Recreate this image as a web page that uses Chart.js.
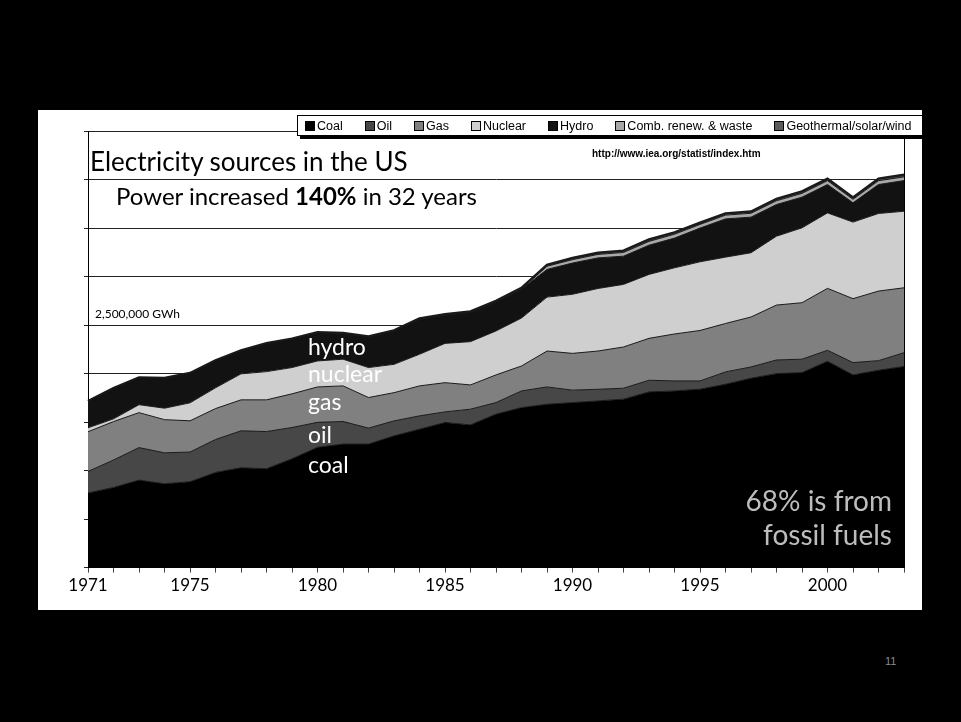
<!DOCTYPE html>
<html>
<head>
<meta charset="utf-8">
<script src="https://cdn.jsdelivr.net/npm/chart.js@4.4.1/dist/chart.umd.min.js"></script>
<style>
  body { margin: 0; width: 961px; height: 722px; background: #000; position: relative; overflow: hidden; font-family: Lato, sans-serif; }
  #panel { position: absolute; left: 38px; top: 110px; width: 884px; height: 500px; background: #fff; }
  #panel canvas { position: absolute; left: 0; top: 0; }
  .txt { position: absolute; white-space: nowrap; line-height: 1; }
  #title { left: 90px; top: 148px; font-size: 26px; color: #000; }
  #sub { left: 116px; top: 184px; font-size: 24px; color: #000; }
  #src { left: 592px; top: 148px; font: bold 10px "Liberation Sans", Arial, sans-serif; color: #000; }
  #gwh { left: 95px; top: 308px; font-size: 12px; color: #000; }
  .layer { left: 308px; font-size: 23px; color: #fff; }
  .fossil { right: 69px; font-size: 28px; color: #bdbdbd; text-align: right; }
  #legend { position: absolute; left: 297px; top: 115px; width: 626px; height: 21px; box-sizing: border-box;
            border: 1px solid #000; background: #fff; box-shadow: 3px 3px 0 #000;
            display: flex; justify-content: flex-start; gap: 22px; align-items: center; padding: 0 7px;
            font: 12.5px "Liberation Sans", Arial, sans-serif; color: #000; }
  #legend span.sw { display: inline-block; width: 8px; height: 8px; border: 1px solid #000; margin-right: 2px; vertical-align: -1px; }
  #page { position: absolute; left: 885px; top: 655px; font: 11px "Liberation Sans", Arial, sans-serif; color: #8c8c8c; }
</style>
</head>
<body>
<div id="panel"><canvas id="chart" width="884" height="500"></canvas></div>
<div id="legend"></div>
<div class="txt" id="title">Electricity sources in the US</div>
<div class="txt" id="sub">Power increased <b>140%</b> in 32 years</div>
<div class="txt" id="src">http://www.iea.org/statist/index.htm</div>
<div class="txt" id="gwh">2,500,000 GWh</div>
<div class="txt layer" style="top:335px">hydro</div>
<div class="txt layer" style="top:362px">nuclear</div>
<div class="txt layer" style="top:390px">gas</div>
<div class="txt layer" style="top:423px">oil</div>
<div class="txt layer" style="top:453px">coal</div>
<div class="txt fossil" style="top:486px">68% is from</div>
<div class="txt fossil" style="top:520px">fossil fuels</div>
<div id="page">11</div>
<script>
// US electricity generation by source, TWh (thousand GWh)
const years = [1971, 1972, 1973, 1974, 1975, 1976, 1977, 1978, 1979, 1980, 1981,
  1982, 1983, 1984, 1985, 1986, 1987, 1988, 1989, 1990, 1991, 1992, 1993, 1994,
  1995, 1996, 1997, 1998, 1999, 2000, 2001, 2002, 2003];
const tickYears = [1971, 1975, 1980, 1985, 1990, 1995, 2000];

const coal = [769, 826, 902, 864, 885, 981, 1029, 1019, 1122, 1240, 1273, 1273, 1358,
  1427, 1495, 1471, 1582, 1649, 1684, 1701, 1718, 1736, 1811, 1821, 1839, 1890, 1952,
  1999, 2010, 2127, 1986, 2034, 2073];
const oil = [222, 283, 335, 319, 306, 339, 381, 383, 322, 257, 233, 165, 154, 137, 110,
  162, 119, 172, 178, 128, 120, 113, 120, 103, 85, 127, 116, 141, 138, 113, 127, 99, 142];
const gas = [409, 396, 360, 342, 322, 319, 319, 327, 347, 365, 367, 315, 291, 309, 301,
  250, 285, 257, 370, 379, 394, 425, 432, 484, 520, 499, 515, 566, 582, 638, 659, 717, 669];
const nuclear = [41, 28, 82, 118, 185, 214, 268, 291, 271, 268, 275, 309, 292, 326, 405,
  446, 453, 494, 556, 609, 645, 645, 659, 682, 708, 684, 662, 710, 772, 778, 789, 800, 789];
const hydro = [273, 314, 278, 309, 304, 278, 237, 290, 292, 291, 263, 316, 343, 360, 291,
  300, 298, 298, 285, 322, 315, 291, 301, 306, 347, 394, 367, 326, 316, 292, 199, 298, 316];
const combRenew = [0, 0, 0, 0, 0, 0, 0, 0, 0, 0, 0, 0, 0, 0, 0, 0, 0, 0, 33, 35, 36, 38,
  39, 40, 38, 39, 40, 39, 39, 40, 36, 40, 38];
const geoSolarWind = [1, 2, 2, 3, 3, 4, 4, 3, 4, 5, 6, 5, 7, 9, 10, 11, 12, 12, 15, 17,
  18, 19, 20, 19, 17, 18, 18, 19, 20, 19, 18, 21, 22];

const series = [
  { label: "Coal", data: coal, color: "#000000" },
  { label: "Oil", data: oil, color: "#474747" },
  { label: "Gas", data: gas, color: "#808080" },
  { label: "Nuclear", data: nuclear, color: "#cfcfcf" },
  { label: "Hydro", data: hydro, color: "#121212" },
  { label: "Comb. renew. & waste", data: combRenew, color: "#a8a8a8" },
  { label: "Geothermal/solar/wind", data: geoSolarWind, color: "#5c5c5c" },
];

const datasets = series.map((s, i) => ({
  label: s.label,
  data: s.data,
  backgroundColor: s.color,
  borderColor: "#1a1a1a",
  borderWidth: i === series.length - 1 ? 2.5 : 1,
  fill: i === 0 ? "origin" : "-1",
  pointRadius: 0,
  tension: 0,
}));

// legend box above the plot
const legend = document.getElementById("legend");
series.forEach((s) => {
  const item = document.createElement("div");
  item.innerHTML = `<span class="sw" style="background:${s.color}"></span>${s.label}`;
  legend.appendChild(item);
});

// right-hand frame line of the plot area
const frame = {
  id: "frame",
  afterDatasetsDraw(chart) {
    const { ctx, chartArea } = chart;
    ctx.save();
    ctx.strokeStyle = "#000";
    ctx.lineWidth = 1;
    ctx.beginPath();
    ctx.moveTo(chartArea.right + 0.5, chartArea.top);
    ctx.lineTo(chartArea.right + 0.5, chartArea.bottom);
    ctx.stroke();
    ctx.restore();
  },
};

new Chart(document.getElementById("chart"), {
  type: "line",
  data: { labels: years, datasets },
  plugins: [frame],
  options: {
    responsive: false,
    animation: false,
    layout: { padding: { left: 46, right: 18, top: 21, bottom: 11 } },
    plugins: { legend: { display: false }, tooltip: { enabled: false } },
    scales: {
      x: {
        offset: false,
        grid: { drawOnChartArea: false, tickLength: 5, color: "#444" },
        border: { color: "#000" },
        ticks: {
          autoSkip: false,
          maxRotation: 0,
          color: "#000",
          font: { family: "Lato", size: 17 },
          callback: (v, i) => (tickYears.includes(years[i]) ? String(years[i]) : ""),
        },
      },
      y: {
        stacked: true,
        min: 0,
        max: 4500,
        ticks: { stepSize: 500, display: false },
        grid: { color: "#222", tickLength: 4 },
        border: { color: "#000" },
      },
    },
  },
});
</script>
</body>
</html>
